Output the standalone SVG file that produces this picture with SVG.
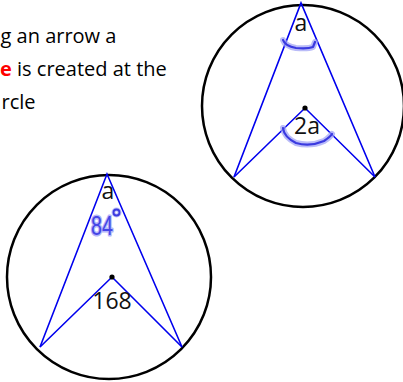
<svg xmlns="http://www.w3.org/2000/svg" width="403" height="382" viewBox="0 0 403 382">
<style>
.t{font-family:"Open Sans","Noto Sans",sans-serif;font-size:20px;fill:#000}
.lbl{font-family:"Open Sans","Noto Sans",sans-serif;font-size:23px;fill:#111;text-anchor:middle}
.circ{fill:none;stroke:#000;stroke-width:2.5}
.ln{fill:none;stroke:#0000ee;stroke-width:1.6;stroke-linejoin:miter}
.glow{fill:none;stroke:#9da0f5;stroke-width:6;stroke-linecap:round;stroke-linejoin:round;opacity:0.7}
.ink{fill:none;stroke:#3a3ae0;stroke-width:2.2;stroke-linecap:round;stroke-linejoin:round}
</style>
<rect width="403" height="382" fill="#fff"/>
<g id="caption">
<text class="t" x="0.5" y="43">g an arrow a</text>
<text class="t" x="0" y="76"><tspan fill="#ff0000" font-weight="bold">e</tspan> is created at the</text>
<text class="t" x="1.5" y="109">rcle</text>
</g>
<g id="circle-top-right">
<circle class="circ" cx="303" cy="106" r="101"/>
<polyline class="ln" points="234,177 301,3 375,177"/>
<polyline class="ln" points="234,177 305,108 375,177"/>
<circle cx="305" cy="108" r="2.6" fill="#000"/>
<text class="lbl" x="301" y="31">a</text>
<text class="lbl" x="307" y="134">2a</text>
<path class="glow" d="M283,40 Q285,46 296,48 Q308,49 313,47 L315,42"/>
<path class="ink" d="M283,40 Q285,46 296,48 Q308,49 313,47 L315,42"/>
<path class="glow" d="M283,128 Q284,137 296,143 Q310,147 324,141 Q330,137 332,134"/>
<path class="ink" d="M283,128 Q284,137 296,143 Q310,147 324,141 Q330,137 332,134"/>
</g>
<g id="circle-bottom-left">
<circle class="circ" cx="109" cy="277" r="102"/>
<polyline class="ln" points="40,347 107,174 182,347"/>
<polyline class="ln" points="40,347 112,277 182,347"/>
<circle cx="112" cy="277" r="2.6" fill="#000"/>
<text class="lbl" x="108" y="199">a</text>
<text class="lbl" x="112" y="309">168</text>
<text x="102" y="235" font-family="Liberation Sans Narrow, Liberation Sans, sans-serif" font-size="27" text-anchor="middle" fill="#4545e6" stroke="#b4b6f8" stroke-width="3" stroke-linejoin="round" paint-order="stroke" textLength="22" lengthAdjust="spacingAndGlyphs">84</text>
<circle cx="116.5" cy="212.5" r="3" fill="none" stroke="#9da0f5" stroke-width="4" opacity="0.7"/>
<circle cx="116.5" cy="212.5" r="3" fill="none" stroke="#3a3ae0" stroke-width="1.8"/>
</g>
</svg>
